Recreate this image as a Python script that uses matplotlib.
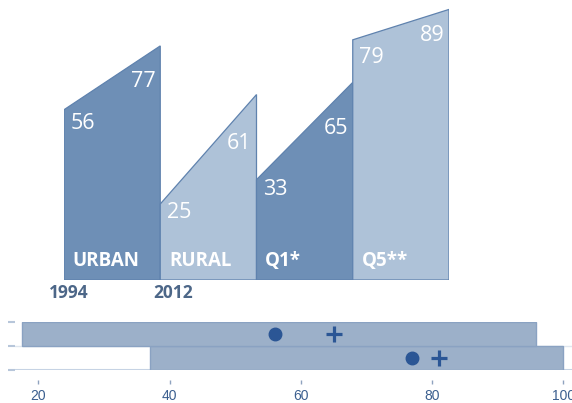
import matplotlib
matplotlib.use('Agg')
import matplotlib.pyplot as plt

# data
categories = ['URBAN', 'RURAL', 'Q1*', 'Q5**']
v1994 = [56, 25, 33, 79]
v2012 = [77, 61, 65, 89]
shade = ['dark', 'light', 'dark', 'light']
years = ['1994', '2012']

# lower panel: ranges with two markers each
range_low = [37, 17.5]
range_high = [100, 95.8]
dots = [77, 56]
pluses = [81, 65]

dark = '#6e8fb6'
light = '#aec2d8'
edge = '#5f82ae'
box_col = '#9cb0c9'
mark_col = '#2b5695'

plt.rcParams['font.family'] = ['Open Sans', 'DejaVu Sans']

fig = plt.figure(figsize=(5.72, 4.03), dpi=100)

# top panel: slanted columns
ax = fig.add_axes([64 / 572, 123 / 403, 385 / 572, 280 / 403])
ax.set_xlim(0, 4)
ax.set_ylim(0, 92.1)
ax.axis('off')

for i, cat in enumerate(categories):
    a, b = v1994[i], v2012[i]
    col = dark if shade[i] == 'dark' else light
    ax.fill([i, i, i + 1, i + 1], [0, a, b, 0], facecolor=col,
            edgecolor=edge, linewidth=0.9)
    d = b - a
    ax.text(i + 0.07, a - 3.5 + 0.12 * d, str(a), color='white', fontsize=15.5,
            ha='left', va='top')
    ax.text(i + 0.95, b - 2 - 0.3 * d, str(b), color='white', fontsize=15.5,
            ha='right', va='top')
    ax.text(i + 0.09, 6.3, cat, color='white', fontsize=13.5,
            fontweight='bold', ha='left', va='center')

for j, y in enumerate(years):
    ax.text(j + 0.05 + 0.08 * j, -4.4, y, color='#4d6788', fontsize=12.5,
            fontweight='bold', ha='center', va='center', clip_on=False)

# bottom panel: horizontal ranges
bx = fig.add_axes([15 / 572, 33 / 403, 557 / 572, 48.3 / 403])
rows = [0.5, 1.5]
bx.barh(rows, [h - l for l, h in zip(range_low, range_high)], left=range_low,
        height=1.0, color=box_col, edgecolor='#8aa2c2', linewidth=1.0, zorder=2)
bx.plot(dots, rows, 'o', color=mark_col, markersize=9, zorder=3)
bx.plot(pluses, rows, '+', color=mark_col, markersize=11,
        markeredgewidth=2.3, zorder=3)
bx.axhline(0, color='#c6d3e4', linewidth=1.5, zorder=1)
bx.axhline(1, color='#dfe6ef', linewidth=1.0, zorder=1)

bx.set_xlim(16.45, 101.3)
bx.set_ylim(0, 2)
bx.set_xticks([20, 40, 60, 80, 100])
bx.set_yticks([0, 1, 2])
bx.set_yticklabels([])
for s in ['top', 'right', 'left', 'bottom']:
    bx.spines[s].set_visible(False)
bx.spines['bottom'].set_position(('outward', 7.5))
bx.tick_params(axis='x', length=3, width=1, color='#8fa3bf', pad=3,
               labelsize=10, labelcolor='#3b5f8f')
bx.tick_params(axis='y', length=5, width=1.5, color='#b7c6da')
for lab in bx.get_xticklabels():
    lab.set_fontfamily(['Liberation Sans', 'DejaVu Sans'])

plt.savefig('out.png', dpi=100)
